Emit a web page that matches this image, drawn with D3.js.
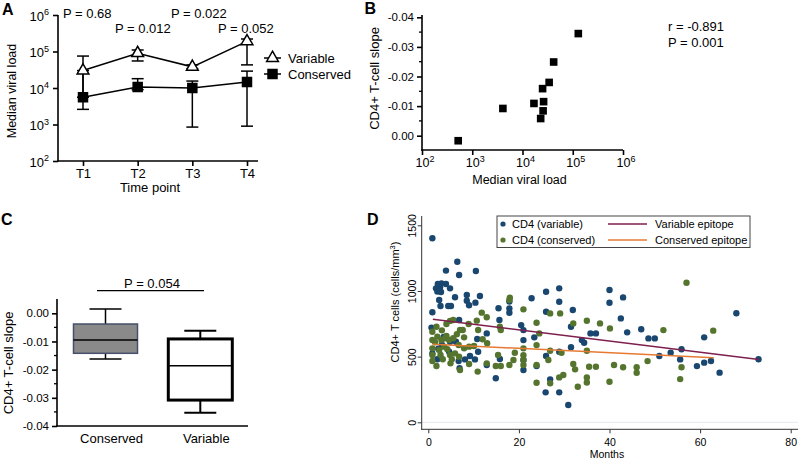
<!DOCTYPE html>
<html><head><meta charset="utf-8">
<script src="https://cdn.jsdelivr.net/npm/d3@7"></script>
<style>
body{margin:0;background:#fff;}
svg{display:block;font-family:"Liberation Sans",Arial,sans-serif;}
</style></head><body>
<svg id="c" width="798" height="458"></svg>
<script>
// ---------- Panel A data ----------
const timePoints = ["T1","T2","T3","T4"];
const variableMedian = [30000, 90000, 38000, 190000];
const variableLow    = [5600, 55000, 34000, 43000];
const variableHigh   = [75000, 110000, 43000, 220000];
const conservedMedian = [5600, 10700, 10000, 14500];
const conservedLow    = [2600, 9000, 850, 900];
const conservedHigh   = [30000, 18000, 15500, 29000];
const pLabelsA = ["P = 0.68","P = 0.012","P = 0.022","P = 0.052"];
const logTicksA = [100,1000,10000,100000,1000000];
const seriesNamesA = ["Variable","Conserved"];

// ---------- Panel B data ----------
const bViral = [525, 4070, 16900, 26300, 25700, 23000, 25100, 33900, 41700, 129000];
const bSlope = [0.0017, -0.0092, -0.0109, -0.0115, -0.0084, -0.0058, -0.0159, -0.018, -0.0249, -0.0345];
const logTicksB = [100,1000,10000,100000,1000000];
const slopeTicks = [0, -0.01, -0.02, -0.03, -0.04];
const slopeMinor = [-0.005, -0.015, -0.025, -0.035];
const corrText = ["r = -0.891","P = 0.001"];

// ---------- Panel C data ----------
const groupsC = ["Conserved","Variable"];
const whiskerHigh = [0.0015, -0.0062];
const quartile3   = [-0.0038, -0.0091];
const medianC     = [-0.0095, -0.0186];
const quartile1   = [-0.0142, -0.0308];
const whiskerLow  = [-0.0162, -0.0353];
const pLabelC = "P = 0.054";

// ---------- Panel D data ----------
const varMonths = [0.9,0.9,0.7,0.9,1.7,2.1,2.6,2.9,2.0,2.8,2.4,3.9,6.4,6.8,10.5,3.9,4.8,5.9,8.5,11.4,2.4,2.7,4.4,5.0,8.5,9.0,10.4,6.8,4.8,6.1,4.6,6.7,6.9,8.1,9.2,10.3,11.0,10.8,12.9,12.9,14.9,15.5,15.7,15.8,17.9,17.9,17.9,20.5,21.0,21.0,21.0,21.0,22.8,23.4,23.9,26.0,26.0,26.0,25.9,26.9,28.9,28.9,28.9,28.9,30.9,31.5,31.9,31.5,33.9,34.4,35.8,37.0,40.0,40.0,43.0,42.5,43.9,47.0,48.6,50.0,51.0,53.5,55.9,55.6,59.3,60.9,62.4,60.9,64.3,68.0,72.9,2.2,3.4,3.0,2.0];
const varCD4 = [1401,838,721,525,1020,1053,1028,1058,995,992,1013,1155,1223,1122,1152,1053,1020,952,970,962,931,886,886,886,926,891,911,779,613,613,537,466,411,479,505,479,537,634,677,436,335,868,779,482,867,834,920,740,702,626,398,475,944,647,428,994,842,505,228,327,1020,918,537,228,132,727,855,571,626,606,677,677,1007,910,951,791,685,708,639,639,505,530,556,479,428,454,467,647,378,830,480,560,650,590,480];
const conMonths = [0.9,0.9,0.9,0.9,0.9,1.8,2.0,1.8,2.4,2.7,3.2,2.9,3.7,4.0,4.6,3.5,4.2,4.8,5.2,4.9,4.0,4.8,5.5,5.9,6.3,7.0,6.7,6.8,7.0,7.6,7.9,8.9,7.9,9.0,9.0,10.1,10.7,11.0,10.9,11.8,12.0,12.9,13.0,12.9,14.9,15.4,15.8,16.0,16.0,18.0,17.9,17.9,18.8,19.1,21.0,21.0,21.0,21.0,21.0,23.9,24.5,23.9,23.9,23.9,26.9,26.5,26.9,26.9,29.1,29.4,28.9,29.8,32.0,32.0,32.4,33.0,35.0,35.0,35.0,35.0,35.5,37.0,37.9,40.1,40.0,41.0,43.0,46.0,46.0,48.4,51.9,55.6,55.9,57.0,62.9,1.5,3.0,5.5];
const conCD4 = [690,627,563,513,467,728,652,429,551,513,480,627,640,657,627,576,556,513,480,449,749,772,779,525,670,703,589,500,398,703,647,749,563,576,444,581,774,703,386,835,632,800,602,449,429,513,728,703,429,949,931,436,474,530,860,563,510,474,436,758,677,588,436,301,829,474,545,297,829,530,342,360,753,444,403,271,773,545,342,303,423,423,753,715,309,436,419,419,377,466,702,329,419,1062,698,610,700,640];
const fitMonthsVar = [1, 73], fitVar = [784, 479];
const fitMonthsCon = [1, 63], fitCon = [594, 492];
const legendD = ["CD4 (variable)","CD4 (conserved)","Variable epitope","Conserved epitope"];
const xTicksD = [0,20,40,60,80];
const yTicksD = [0,500,1000,1500];

const svg = d3.select("#c");
const F = '"Liberation Sans", Arial, sans-serif';
const black = "#000";

function styleAxis(g, w){
  g.selectAll("path.domain").remove();
  g.selectAll(".tick line").attr("stroke", black).attr("stroke-width", w);
  g.selectAll(".tick text").attr("fill", black).style("font-family", F);
}
function supLabel(sel, base, exp, fs, sfs){
  sel.text(null);
  sel.append("tspan").text(base);
  sel.append("tspan").attr("dy", -fs*0.42).attr("font-size", sfs).text(exp);
}
function panelLabel(t, x, y){
  svg.append("text").attr("x",x).attr("y",y).attr("font-size",16).attr("font-weight","bold").text(t);
}

// ================= Panel A =================
{
  const xA = d3.scalePoint().domain(timePoints).range([83,247]);
  const yA = d3.scaleLog().domain([100,1e6]).range([161,15]);
  const g = svg.append("g");
  const ya = g.append("g").attr("transform","translate(58,0)")
    .call(d3.axisLeft(yA).tickValues(logTicksA).tickSize(5).tickSizeOuter(0).tickPadding(4));
  styleAxis(ya, 1.6);
  ya.selectAll(".tick text").attr("font-size",13).attr("dy","0.4em")
    .each(function(d){ supLabel(d3.select(this), "10", String(Math.round(Math.log10(d))), 13, 9); });
  g.append("line").attr("x1",58).attr("x2",58).attr("y1",yA(1e6)).attr("y2",yA(100)+0.8).attr("stroke",black).attr("stroke-width",1.6);
  const xa = g.append("g").attr("transform","translate(0,161)")
    .call(d3.axisBottom(xA).tickSize(5).tickSizeOuter(0).tickPadding(3));
  styleAxis(xa, 1.6);
  xa.selectAll(".tick text").attr("font-size",13);
  g.append("line").attr("x1",57.2).attr("x2",258).attr("y1",161).attr("y2",161).attr("stroke",black).attr("stroke-width",1.6);
  g.append("text").attr("x",150).attr("y",192).attr("text-anchor","middle").attr("font-size",13).text("Time point");
  g.append("text").attr("transform","translate(16,91) rotate(-90)").attr("text-anchor","middle").attr("font-size",12.5).text("Median viral load");

  const series = [
    {med: variableMedian, lo: variableLow, hi: variableHigh, sym: d3.symbolTriangle, size: 60, fill: "#fff"},
    {med: conservedMedian, lo: conservedLow, hi: conservedHigh, sym: d3.symbolSquare, size: 81, fill: black}
  ];
  series.forEach(s => {
    timePoints.forEach((t,i) => {
      const x = xA(t);
      g.append("line").attr("x1",x).attr("x2",x).attr("y1",yA(s.lo[i])).attr("y2",yA(s.hi[i])).attr("stroke",black).attr("stroke-width",1.5);
      [s.lo[i], s.hi[i]].forEach(v => g.append("line").attr("x1",x-6).attr("x2",x+6).attr("y1",yA(v)).attr("y2",yA(v)).attr("stroke",black).attr("stroke-width",1.5));
    });
  });
  series.forEach(s => {
    g.append("path").attr("d", d3.line().x((d,i)=>xA(timePoints[i])).y(d=>yA(d))(s.med))
      .attr("fill","none").attr("stroke",black).attr("stroke-width",1.5);
  });
  series.forEach(s => {
    g.selectAll(null).data(s.med).enter().append("path")
      .attr("transform",(d,i)=>`translate(${xA(timePoints[i])},${yA(d)})`)
      .attr("d", d3.symbol(s.sym).size(s.size)())
      .attr("fill", s.fill).attr("stroke",black).attr("stroke-width",1.5);
  });
  const px = [63,115,171,218], py = [18.3,32.5,18.3,32.5];
  pLabelsA.forEach((p,i)=> g.append("text").attr("x",px[i]).attr("y",py[i]).attr("font-size",13).text(p));
  const ly = [58,74];
  series.forEach((s,i)=>{
    g.append("line").attr("x1",264).attr("x2",281).attr("y1",ly[i]).attr("y2",ly[i]).attr("stroke",black).attr("stroke-width",1.5);
    g.append("path").attr("transform",`translate(272.5,${ly[i]})`).attr("d", d3.symbol(s.sym).size(s.size)())
      .attr("fill", s.fill).attr("stroke",black).attr("stroke-width",1.5);
    g.append("text").attr("x",288).attr("y",ly[i]+4.7).attr("font-size",13).text(seriesNamesA[i]);
  });
  panelLabel("A", 2, 14.5);
}

// ================= Panel B =================
{
  const xB = d3.scaleLog().domain([100,1e6]).range([422,623]);
  const yB = d3.scaleLinear().domain([0,-0.04]).range([135.7,17.3]);
  const g = svg.append("g");
  const ya = g.append("g").attr("transform","translate(422,0)")
    .call(d3.axisLeft(yB).tickValues(slopeTicks).tickSize(5).tickSizeOuter(0).tickPadding(3));
  styleAxis(ya, 1.6);
  ya.selectAll(".tick text").attr("font-size",11.5).text(d => (d<0?"-":"") + Math.abs(d).toFixed(2));
  g.selectAll(null).data(slopeMinor).enter().append("line")
    .attr("x1",419).attr("x2",422).attr("y1",d=>yB(d)).attr("y2",d=>yB(d)).attr("stroke",black).attr("stroke-width",1.3);
  g.append("line").attr("x1",422).attr("x2",422).attr("y1",15).attr("y2",150.8).attr("stroke",black).attr("stroke-width",1.6);
  const xa = g.append("g").attr("transform","translate(0,150)")
    .call(d3.axisBottom(xB).tickValues(logTicksB).tickSize(5).tickSizeOuter(0).tickPadding(3));
  styleAxis(xa, 1.6);
  xa.selectAll(".tick text").attr("font-size",12.5).attr("text-anchor","start").attr("x",-7).attr("dy","0.72em")
    .each(function(d){ supLabel(d3.select(this), "10", String(Math.round(Math.log10(d))), 12.5, 9); });
  g.append("line").attr("x1",421.2).attr("x2",623).attr("y1",150).attr("y2",150).attr("stroke",black).attr("stroke-width",1.6);
  g.append("text").attr("x",519.5).attr("y",184).attr("text-anchor","middle").attr("font-size",12.5).text("Median viral load");
  g.append("text").attr("transform","translate(379,78.5) rotate(-90)").attr("text-anchor","middle").attr("font-size",13).text("CD4+ T-cell slope");
  g.selectAll(null).data(bViral).enter().append("path")
    .attr("transform",(d,i)=>`translate(${xB(d)},${yB(bSlope[i])})`)
    .attr("d", d3.symbol(d3.symbolSquare).size(58)()).attr("fill",black);
  corrText.forEach((t,i)=> g.append("text").attr("x",668).attr("y",31+i*16).attr("font-size",13).text(t));
  panelLabel("B", 364.5, 13.5);
}

// ================= Panel C =================
{
  const xC = d3.scalePoint().domain(groupsC).range([105.5,200.3]);
  const yC = d3.scaleLinear().domain([0,-0.04]).range([313.3,426]);
  const g = svg.append("g");
  const ya = g.append("g").attr("transform","translate(57,0)")
    .call(d3.axisLeft(yC).tickValues(slopeTicks).tickSize(5).tickSizeOuter(0).tickPadding(3));
  styleAxis(ya, 1.6);
  ya.selectAll(".tick text").attr("font-size",11.5).text(d => (d<0?"-":"") + Math.abs(d).toFixed(2));
  g.selectAll(null).data(slopeMinor).enter().append("line")
    .attr("x1",54).attr("x2",57).attr("y1",d=>yC(d)).attr("y2",d=>yC(d)).attr("stroke",black).attr("stroke-width",1.3);
  g.append("line").attr("x1",57).attr("x2",57).attr("y1",299).attr("y2",426.8).attr("stroke",black).attr("stroke-width",1.6);
  g.append("line").attr("x1",56.2).attr("x2",248).attr("y1",426).attr("y2",426).attr("stroke",black).attr("stroke-width",1.6);
  g.selectAll(null).data(groupsC).enter().append("text")
    .attr("x",d=>xC(d)+6).attr("y",443).attr("text-anchor","middle").attr("font-size",13).text(d=>d);
  g.append("text").attr("transform","translate(13,363) rotate(-90)").attr("text-anchor","middle").attr("font-size",13).text("CD4+ T-cell slope");

  const styles = [
    {fill:"#8a8a8a", stroke:"#46506a", bw:1.5, ww:1.5},
    {fill:"#fff", stroke:black, bw:3, ww:2}
  ];
  groupsC.forEach((gname,i)=>{
    const cx = xC(gname), s = styles[i], hw = 32, cw = 16;
    g.append("line").attr("x1",cx).attr("x2",cx).attr("y1",yC(whiskerHigh[i])).attr("y2",yC(quartile3[i])).attr("stroke",black).attr("stroke-width",s.ww);
    g.append("line").attr("x1",cx).attr("x2",cx).attr("y1",yC(quartile1[i])).attr("y2",yC(whiskerLow[i])).attr("stroke",black).attr("stroke-width",s.ww);
    [whiskerHigh[i], whiskerLow[i]].forEach(v=> g.append("line").attr("x1",cx-cw).attr("x2",cx+cw).attr("y1",yC(v)).attr("y2",yC(v)).attr("stroke",black).attr("stroke-width",s.ww));
    g.append("rect").attr("x",cx-hw).attr("width",2*hw).attr("y",yC(quartile3[i])).attr("height",yC(quartile1[i])-yC(quartile3[i]))
      .attr("fill",s.fill).attr("stroke",s.stroke).attr("stroke-width",s.bw);
    g.append("line").attr("x1",cx-hw).attr("x2",cx+hw).attr("y1",yC(medianC[i])).attr("y2",yC(medianC[i])).attr("stroke",black).attr("stroke-width",1.5);
  });
  g.append("line").attr("x1",97).attr("x2",204).attr("y1",290.7).attr("y2",290.7).attr("stroke",black).attr("stroke-width",1.2);
  g.append("text").attr("x",152).attr("y",287.5).attr("text-anchor","middle").attr("font-size",13).text(pLabelC);
  panelLabel("C", 1, 225);
}

// ================= Panel D =================
{
  const xD = d3.scaleLinear().domain([0,80]).range([428.3,790.7]);
  const yD = d3.scaleLinear().domain([0,1500]).range([422.3,225.3]);
  const g = svg.append("g").style("font-family",F);
  const axc = "#333";
  g.append("line").attr("x1",422).attr("x2",798).attr("y1",yD(0)).attr("y2",yD(0)).attr("stroke","#e1e9ee").attr("stroke-width",1);
  const ya = g.append("g").attr("transform","translate(421.7,0)")
    .call(d3.axisLeft(yD).tickValues(yTicksD).tickSize(4).tickSizeOuter(0).tickFormat(d3.format("d")));
  styleAxis(ya, 1);
  ya.selectAll(".tick line").attr("stroke",axc);
  ya.selectAll(".tick text").attr("font-size",10.5).attr("text-anchor","middle").attr("dy",null)
    .attr("x",0).attr("y",-6).attr("transform","rotate(-90)");
  g.append("line").attr("x1",421.7).attr("x2",421.7).attr("y1",216).attr("y2",429.8).attr("stroke",axc).attr("stroke-width",1);
  const xa = g.append("g").attr("transform","translate(0,429.3)")
    .call(d3.axisBottom(xD).tickValues(xTicksD).tickSize(4).tickSizeOuter(0).tickPadding(5).tickFormat(d3.format("d")));
  styleAxis(xa, 1);
  xa.selectAll(".tick text").attr("font-size",10.5);
  xa.selectAll(".tick line").attr("stroke",axc);
  g.append("line").attr("x1",421.2).attr("x2",798).attr("y1",429.3).attr("y2",429.3).attr("stroke",axc).attr("stroke-width",1);
  g.append("text").attr("x",607).attr("y",457.5).attr("text-anchor","middle").attr("font-size",10.5).text("Months");
  const yt = g.append("text").attr("transform","translate(398.5,302) rotate(-90)").attr("text-anchor","middle").attr("font-size",11);
  yt.append("tspan").text("CD4+ T cells (cells/mm");
  yt.append("tspan").attr("dy",-4).attr("font-size",7.5).text("3");
  yt.append("tspan").attr("dy",4).text(")");

  const navy = "#1a476f", green = "#55752f", maroon = "#7e1f4e", orange = "#e57a32";
  g.selectAll(null).data(varMonths).enter().append("circle")
    .attr("cx",d=>xD(d)).attr("cy",(d,i)=>yD(varCD4[i])).attr("r",3.2).attr("fill",navy);
  g.selectAll(null).data(conMonths).enter().append("circle")
    .attr("cx",d=>xD(d)).attr("cy",(d,i)=>yD(conCD4[i])).attr("r",3.2).attr("fill",green);
  const ln = d3.line().x(d=>xD(d[0])).y(d=>yD(d[1]));
  g.append("path").attr("d", ln(fitMonthsVar.map((m,i)=>[m,fitVar[i]]))).attr("fill","none").attr("stroke",maroon).attr("stroke-width",1.5);
  g.append("path").attr("d", ln(fitMonthsCon.map((m,i)=>[m,fitCon[i]]))).attr("fill","none").attr("stroke",orange).attr("stroke-width",1.5);

  g.append("rect").attr("x",497).attr("y",216).attr("width",253).attr("height",31.5).attr("fill","#fff").attr("stroke","#444").attr("stroke-width",1);
  const rows = [224, 240];
  [navy, green].forEach((c,i)=>{
    g.append("circle").attr("cx",503).attr("cy",rows[i]).attr("r",2.6).attr("fill",c);
    g.append("text").attr("x",512).attr("y",rows[i]+4).attr("font-size",11).text(legendD[i]);
  });
  [maroon, orange].forEach((c,i)=>{
    g.append("line").attr("x1",608).attr("x2",647).attr("y1",rows[i]).attr("y2",rows[i]).attr("stroke",c).attr("stroke-width",1.5);
    g.append("text").attr("x",655).attr("y",rows[i]+4).attr("font-size",11).text(legendD[2+i]);
  });
  panelLabel("D", 367, 225);
}
</script>
</body></html>
